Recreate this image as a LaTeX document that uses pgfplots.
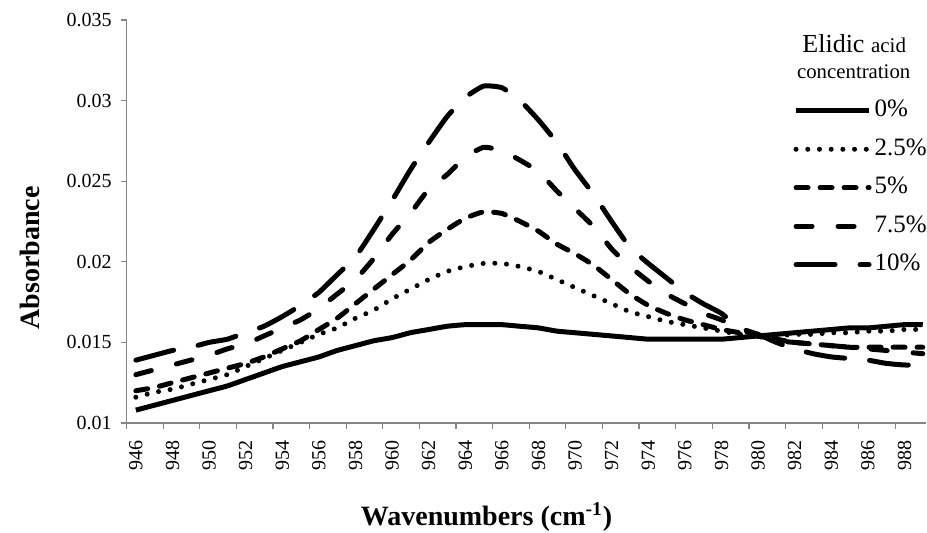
\documentclass[border=0pt]{standalone}
\usepackage{pgfplots}
\pgfplotsset{compat=1.18}
\usepackage{pgfplotstable}
\usepackage{fontspec}
\setmainfont{Liberation Serif}
\definecolor{axisgray}{HTML}{868686}

\pgfplotstableread{
x a0 a25 a5 a75 a10
946 0.0108 0.0116 0.0120 0.0130 0.0139
947 0.0111 0.0119 0.0122 0.0133 0.0142
948 0.0114 0.0121 0.0125 0.0136 0.0145
949 0.0117 0.0124 0.0128 0.0139 0.0147
950 0.0120 0.0127 0.0131 0.0142 0.0150
951 0.0123 0.0130 0.0134 0.0146 0.0152
952 0.0127 0.0135 0.0137 0.0149 0.0156
953 0.0131 0.0140 0.0141 0.0154 0.0160
954 0.0135 0.0145 0.0146 0.0159 0.0166
955 0.0138 0.0150 0.0151 0.0164 0.0173
956 0.0141 0.0155 0.0158 0.0171 0.0181
957 0.0145 0.0159 0.0165 0.0180 0.0192
958 0.0148 0.0165 0.0174 0.0189 0.0203
959 0.0151 0.0170 0.0183 0.0202 0.0220
960 0.0153 0.0177 0.0192 0.0217 0.0238
961 0.0156 0.0183 0.0201 0.0230 0.0257
962 0.0158 0.0189 0.0212 0.0245 0.0274
963 0.0160 0.0194 0.0220 0.0254 0.0290
964 0.0161 0.0197 0.0227 0.0265 0.0302
965 0.0161 0.0199 0.0231 0.0271 0.0309
966 0.0161 0.0199 0.0230 0.0269 0.0308
967 0.0160 0.0197 0.0225 0.0263 0.0300
968 0.0159 0.0194 0.0219 0.0256 0.0288
969 0.0157 0.0189 0.0211 0.0244 0.0274
970 0.0156 0.0184 0.0205 0.0233 0.0257
971 0.0155 0.0179 0.0198 0.0222 0.0242
972 0.0154 0.0174 0.0189 0.0208 0.0225
973 0.0153 0.0169 0.0180 0.0197 0.0209
974 0.0152 0.0166 0.0173 0.0188 0.0199
975 0.0152 0.0163 0.0168 0.0180 0.0190
976 0.0152 0.0161 0.0164 0.0174 0.0181
977 0.0152 0.0159 0.0161 0.0168 0.0174
978 0.0152 0.0157 0.0158 0.0164 0.0168
979 0.0153 0.0155 0.0156 0.0158 0.0159
980 0.0154 0.0154 0.0154 0.0154 0.0155
981 0.0155 0.0154 0.0152 0.0151 0.0150
982 0.0156 0.0155 0.0150 0.0150 0.0146
983 0.0157 0.0155 0.0149 0.0149 0.0143
984 0.0158 0.0156 0.0148 0.0148 0.0141
985 0.0159 0.0156 0.0147 0.0147 0.0140
986 0.0159 0.0157 0.0147 0.0146 0.0139
987 0.0160 0.0157 0.0147 0.0145 0.0137
988 0.0161 0.0158 0.0147 0.0144 0.0136
989 0.0161 0.0158 0.0147 0.0143 0.0136
}\datatable

\begin{document}
\begin{tikzpicture}
\useasboundingbox (-63.35pt,-54.5pt) rectangle (400.15pt,211.5pt);
\begin{axis}[
  at={(0pt,0pt)}, anchor=south west,
  scale only axis, width=399.85pt, height=201.5pt,
  xmin=945.5, xmax=989.2, ymin=0.01, ymax=0.035,
  axis x line=bottom, axis y line=left,
  axis line style={-, draw=axisgray, line width=0.6pt},
  scaled y ticks=false,
  ytick={0.01,0.015,0.02,0.025,0.03,0.035},
  yticklabels={0.01,0.015,0.02,0.025,0.03,0.035},
  y tick label style={font=\fontsize{10}{12}\selectfont, xshift=-1pt},
  xtick={945.5,947.5,...,987.5},
  xticklabels={},
  extra x ticks={946,948,...,988},
  extra x tick labels={946,948,950,952,954,956,958,960,962,964,966,968,970,972,974,976,978,980,982,984,986,988},
  extra x tick style={tick style={draw=none}},
  x tick label style={font=\fontsize{10}{12}\selectfont, yshift=-2pt, rotate=90, anchor=east},
  tick align=outside,
  major tick length=3pt,
  tick style={draw=axisgray, line width=0.6pt},
  xlabel={Wavenumbers (cm\textsuperscript{-1})},
  ylabel={Absorbance},
  every axis x label/.style={at={(axis description cs:0.45,-0.233)}, anchor=center, font=\fontsize{14}{16}\selectfont\bfseries},
  every axis y label/.style={at={(axis description cs:-0.121,0.41)}, rotate=90, anchor=center, font=\fontsize{14}{16}\selectfont\bfseries},
  legend style={at={(axis description cs:0.8238,0.8196)}, anchor=north west, draw=none, fill=none,
    inner sep=3.83pt,
    font=\fontsize{12.5}{14}\selectfont, row sep=9.25pt, column sep=1.5pt,
    nodes={inner sep=0pt, text height=8pt, text depth=2pt}},
  legend cell align=left,
  legend image code/.code={\draw[#1] (0pt,0pt) -- (36.5pt,0pt);},
  every axis plot/.append style={black, line width=2.5pt, line cap=round, smooth, tension=0.3},
]
\addplot[solid, line cap=butt] table[x=x, y=a0] {\datatable};
\addlegendentry{0\%}
\addplot[dash pattern=on 0pt off 5.85pt] table[x=x, y=a25] {\datatable};
\addlegendentry{2.5\%}
\addplot[dash pattern=on 6pt off 6pt] table[x=x, y=a5] {\datatable};
\addlegendentry{5\%}
\addplot[dash pattern=on 8pt off 13pt] table[x=x, y=a75] {\datatable};
\addlegendentry{7.5\%}
\addplot[dash pattern=on 19.5pt off 12.5pt] table[x=x, y=a10] {\datatable};
\addlegendentry{10\%}
\end{axis}
\node[anchor=base, inner sep=0pt] at (363.75pt,185.35pt) {\fontsize{13}{15}\selectfont Elidic {\fontsize{10.5}{12}\selectfont acid}};
\node[anchor=base, inner sep=0pt] at (363.5pt,172.35pt) {\fontsize{10.4}{12}\selectfont concentration};
\end{tikzpicture}
\end{document}
